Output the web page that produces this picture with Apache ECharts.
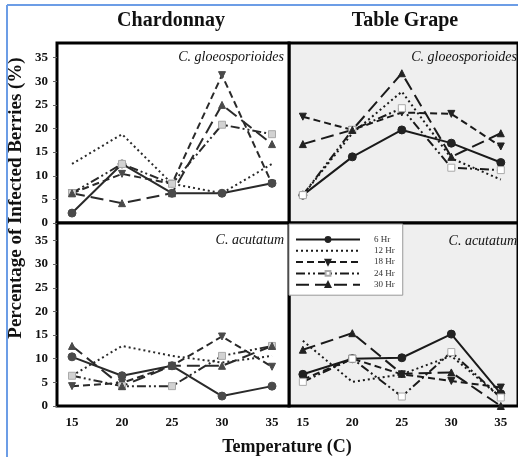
<!DOCTYPE html>
<html>
<head>
<meta charset="utf-8">
<script src="https://cdn.jsdelivr.net/npm/echarts@6/dist/echarts.min.js"></script>
<style>
html, body { margin: 0; padding: 0; background: #fff; }
#main { width: 518px; height: 457px; }
</style>
</head>
<body>
<div id="main"></div>
<script>
var temps = [15, 20, 25, 30, 35];
var yTicks = [0, 5, 10, 15, 20, 25, 30, 35];
var hours = ['6 Hr', '12 Hr', '18 Hr', '24 Hr', '30 Hr'];

// Chardonnay - C. gloeosporioides
var chardGloeo6  = [2.1, 12.5, 6.3, 6.3, 8.4];
var chardGloeo12 = [12.5, 18.8, 8.3, 6.3, 12.5];
var chardGloeo18 = [6.3, 10.4, 8.3, 31.3, 8.3];
var chardGloeo24 = [6.3, 12.5, 8.3, 20.8, 18.8];
var chardGloeo30 = [6.3, 4.2, 6.3, 25.0, 16.7];

// Table Grape - C. gloeosporioides
var grapeGloeo6  = [5.9, 14.0, 19.7, 16.9, 12.8];
var grapeGloeo12 = [5.9, 19.0, 27.8, 13.7, 9.2];
var grapeGloeo18 = [22.5, 19.7, 23.4, 23.1, 16.2];
var grapeGloeo24 = [5.9, 19.7, 24.3, 11.7, 11.2];
var grapeGloeo30 = [16.7, 19.7, 31.7, 14.0, 19.0];

// Chardonnay - C. acutatum
var chardAcut6  = [10.4, 6.4, 8.5, 2.1, 4.2];
var chardAcut12 = [6.4, 12.7, 10.6, 9.2, 10.6];
var chardAcut18 = [4.2, 4.9, 8.5, 14.7, 8.3];
var chardAcut24 = [6.4, 4.2, 4.2, 10.6, 12.7];
var chardAcut30 = [12.7, 4.2, 8.5, 8.5, 12.7];

// Table Grape - C. acutatum
var grapeAcut6  = [6.7, 10.0, 10.2, 15.2, 2.6];
var grapeAcut12 = [13.8, 5.1, 6.7, 10.6, 1.8];
var grapeAcut18 = [5.6, 10.0, 6.7, 5.3, 3.9];
var grapeAcut24 = [5.1, 10.0, 2.0, 11.4, 1.8];
var grapeAcut30 = [11.9, 15.4, 6.8, 7.1, 0];

var serif = 'Liberation Serif';

var lineTypes = { '6 Hr': 'solid', '12 Hr': [2, 3], '18 Hr': [7, 4], '24 Hr': [9, 3, 2, 3, 2, 3], '30 Hr': [13, 6] };
var symbols = { '6 Hr': 'circle', '12 Hr': 'none', '18 Hr': 'triangle', '24 Hr': 'rect', '30 Hr': 'triangle' };

function makeSeries(name, vals, gi, grape) {
  var mark = '#222';
  if (!grape) mark = '#4a4a4a';
  var fill = mark;
  var border = mark;
  if (name == '24 Hr') {
    fill = grape ? '#ffffff' : '#d2d2d2';
    border = '#aaaaaa';
  }
  return {
    name: name,
    type: 'line',
    xAxisIndex: gi,
    yAxisIndex: gi,
    data: temps.map(function (t, i) { return [t, vals[i]]; }),
    symbol: symbols[name],
    symbolSize: name == '6 Hr' ? 8 : 7,
    symbolRotate: name == '18 Hr' ? 180 : 0,
    lineStyle: { color: grape ? '#1a1a1a' : '#2a2a2a', width: 2, type: lineTypes[name] },
    itemStyle: { color: fill, borderColor: border, borderWidth: 1, opacity: 1 },
    emphasis: { disabled: true },
    animation: false
  };
}

var grids = [
  { left: 289, top: 43, width: 236, height: 180, show: true, backgroundColor: '#efefef', borderColor: '#000', borderWidth: 3 },
  { left: 289, top: 223, width: 236, height: 183, show: true, backgroundColor: '#efefef', borderColor: '#000', borderWidth: 3 },
  { left: 57, top: 43, width: 232, height: 180, show: true, backgroundColor: '#fff', borderColor: '#000', borderWidth: 3 },
  { left: 57, top: 223, width: 232, height: 183, show: true, backgroundColor: '#fff', borderColor: '#000', borderWidth: 3 }
];

var labelFont = { fontFamily: serif, fontWeight: 'bold', fontSize: 13, color: '#111' };

var xAxes = grids.map(function (g, i) {
  var grape = i < 2;
  var bottom = i % 2 == 1;
  return {
    type: 'value', gridIndex: i,
    min: grape ? 13.6 : 13.5,
    max: grape ? 13.6 + 236 / 10.2 : 36.7,
    axisLine: { show: false }, axisTick: { show: false }, splitLine: { show: false },
    axisLabel: Object.assign({ show: bottom, margin: 10, customValues: temps }, labelFont)
  };
});

var yAxes = grids.map(function (g, i) {
  var left = i >= 2;
  return {
    type: 'value', gridIndex: i,
    min: 0, max: i % 2 == 1 ? 38.7 : 38.1,
    axisLine: { show: false }, splitLine: { show: false },
    axisTick: { show: left, length: 4, customValues: yTicks, lineStyle: { color: '#666' } },
    axisLabel: Object.assign({ show: left, margin: 9, customValues: yTicks }, labelFont)
  };
});

var series = [];
var panels = [
  [grapeGloeo6, grapeGloeo12, grapeGloeo18, grapeGloeo24, grapeGloeo30],
  [grapeAcut6, grapeAcut12, grapeAcut18, grapeAcut24, grapeAcut30],
  [chardGloeo6, chardGloeo12, chardGloeo18, chardGloeo24, chardGloeo30],
  [chardAcut6, chardAcut12, chardAcut18, chardAcut24, chardAcut30]
];
panels.forEach(function (p, gi) {
  hours.forEach(function (h, k) {
    series.push(makeSeries(h, p[k], gi, gi < 2));
  });
});

function txt(x, y, s, font, align, rot) {
  return {
    type: 'text', x: x, y: y, rotation: rot || 0, z: 10,
    style: { text: s, font: font, fill: '#111', textAlign: align || 'center', textVerticalAlign: 'middle' }
  };
}

var legendData = hours.map(function (h) {
  if (h == '12 Hr') return { name: h, itemStyle: { opacity: 0 } };
  return { name: h };
});

var myChart = echarts.init(document.getElementById('main'));
var option = {
  animation: false,
  grid: grids,
  xAxis: xAxes,
  yAxis: yAxes,
  series: series,
  legend: {
    data: legendData,
    orient: 'vertical',
    left: 289, top: 224,
    padding: [11, 8, 6, 6],
    itemWidth: 64, itemHeight: 6, itemGap: 2.3,
    backgroundColor: '#fff',
    borderColor: '#999', borderWidth: 1,
    selectedMode: false,
    textStyle: { fontFamily: serif, fontSize: 9, color: '#333', padding: [0, 0, 0, 9] }
  },
  graphic: [
    { type: 'line', shape: { x1: 7, y1: 5, x2: 518, y2: 5 }, style: { stroke: '#6c9de6', lineWidth: 2 } },
    { type: 'line', shape: { x1: 7, y1: 5, x2: 7, y2: 457 }, style: { stroke: '#6c9de6', lineWidth: 2 } },
    txt(171, 21, 'Chardonnay', 'bold 20px ' + serif),
    txt(405, 21, 'Table Grape', 'bold 20px ' + serif),
    txt(287, 447, 'Temperature (C)', 'bold 18px ' + serif),
    txt(16, 198, 'Percentage of Infected Berries (%)', 'bold 19px ' + serif, 'center', Math.PI / 2),
    txt(284, 57, 'C. gloeosporioides', 'italic 14px ' + serif, 'right'),
    txt(517, 57, 'C. gloeosporioides', 'italic 14px ' + serif, 'right'),
    txt(284, 240, 'C. acutatum', 'italic 14px ' + serif, 'right'),
    txt(517, 241, 'C. acutatum', 'italic 14px ' + serif, 'right')
  ]
};
myChart.setOption(option);
</script>
</body>
</html>
